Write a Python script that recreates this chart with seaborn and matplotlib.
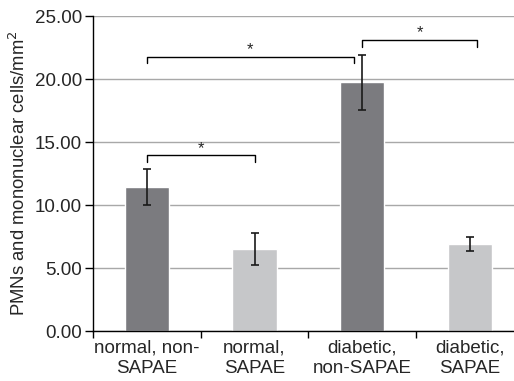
import matplotlib
matplotlib.use("Agg")
import matplotlib.pyplot as plt
import pandas as pd
import seaborn as sns

# Data
groups = ["normal, non-\nSAPAE", "normal,\nSAPAE", "diabetic,\nnon-SAPAE", "diabetic,\nSAPAE"]
means = [11.43, 6.50, 19.76, 6.90]
errors = [1.40, 1.27, 2.18, 0.55]
colors = ["#7b7b7f", "#c6c7c9", "#7b7b7f", "#c6c7c9"]
yticks = [0, 5, 10, 15, 20, 25]

# significance brackets: (left idx, right x, bar height, leg bottom)
brackets = [(0, 1.0, 13.95, 13.4), (0, 1.92, 21.75, 21.25), (2, 3.07, 23.1, 22.55)]

df = pd.DataFrame({"group": groups, "value": means})

sns.set_style("white")
plt.rcParams["font.family"] = ["Liberation Sans", "DejaVu Sans"]

fig = plt.figure(figsize=(5.14, 3.81), dpi=100)
ax = fig.add_axes([0.181, 0.131, 0.819, 0.827])

sns.barplot(data=df, x="group", y="value", hue="group", palette=colors,
            width=0.41, legend=False, ax=ax, saturation=1)
ax.errorbar(range(len(means)), means, yerr=errors, fmt="none",
            ecolor="#1a1a1a", elinewidth=1.2, capsize=3.2, capthick=1.2)

ax.set_xlim(-0.5, 3.41)
ax.set_ylim(0, 25)
ax.set_yticks(yticks)
ax.set_yticklabels([f"{v:.2f}" for v in yticks], fontsize=13.5)
ax.yaxis.grid(True, color="#a8a8a8", linewidth=1)
ax.set_axisbelow(True)

ax.set_xticks(range(len(groups)))
ax.set_xticklabels(groups, fontsize=13.5, linespacing=1.3)
ax.tick_params(axis="x", which="major", length=0, pad=6)
ax.set_xticks([-0.5, 0.5, 1.5, 2.5], minor=True)
ax.tick_params(axis="x", which="minor", bottom=True, length=5, width=1,
               color="black", direction="out")
ax.tick_params(axis="y", left=True, length=6, width=1, color="black",
               direction="out", pad=2)

ax.set_xlabel("")
ax.set_ylabel("PMNs and mononuclear cells/mm$^2$", fontsize=13.3, labelpad=4)

sns.despine(ax=ax)
for s in ["left", "bottom"]:
    ax.spines[s].set_color("black")
    ax.spines[s].set_linewidth(1)

for left, right, top, leg in brackets:
    ax.plot([left, left, right, right], [leg, top, top, leg], color="black", lw=1)
    ax.text((left + right) / 2, top + 0.55, "*", ha="center", va="center",
            fontsize=12)

fig.savefig("out.png", dpi=100)
